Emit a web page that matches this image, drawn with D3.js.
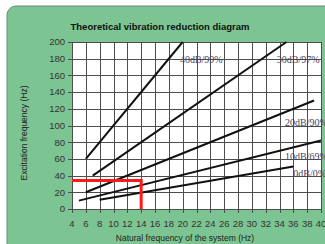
<!DOCTYPE html>
<html>
<head>
<meta charset="utf-8">
<script src="https://cdn.jsdelivr.net/npm/d3@7"></script>
<style>
  body { margin: 0; background: #fff; }
  svg { display: block; }
</style>
</head>
<body>
<div id="chart"></div>
<script>
// Data
const xTicks = [4, 6, 8, 10, 12, 14, 16, 18, 20, 22, 24, 26, 28, 30, 32, 34, 36, 38, 40];
const yTicks = [0, 20, 40, 60, 80, 100, 120, 140, 160, 180, 200];
const seriesNames = ["40dB/99%", "30dB/97%", "20dB/90%", "10dB/69%", "0dB/0%"];
const seriesPoints = [
    [[6, 60], [20, 200]],
    [[7, 40], [35, 200]],
    [[6, 20], [39, 130]],
    [[5, 10], [40, 82]],
    [[8, 11], [36, 51]]
];
// label anchor (left end): [x, y] in data units
const labelPos = [[19.6, 179], [33.6, 179], [34.8, 103], [34.8, 63], [36, 43]];
const markerPath = [[4, 34], [14, 34], [14, 0]];

const width = 325, height = 244;

const svg = d3.select("#chart").append("svg")
    .attr("width", width)
    .attr("height", height);

// green card
svg.append("rect")
    .attr("x", 7).attr("y", 6)
    .attr("width", 340).attr("height", 260)
    .attr("rx", 9)
    .attr("fill", "#7cc491")
    .attr("stroke", "#6d8a76")
    .attr("stroke-width", 1);

const x = d3.scaleLinear().domain([4, 40]).range([72, 321]);
const y = d3.scaleLinear().domain([0, 200]).range([209, 42]);

// plot area
svg.append("rect")
    .attr("x", x(4)).attr("y", y(200))
    .attr("width", x(40) - x(4)).attr("height", y(0) - y(200))
    .attr("fill", "#fff");

// grid
svg.append("g")
    .selectAll("line")
    .data(xTicks)
    .join("line")
    .attr("x1", d => Math.round(x(d)) + 0.5).attr("x2", d => Math.round(x(d)) + 0.5)
    .attr("y1", y(200)).attr("y2", y(0) + 4)
    .attr("stroke", "#4d4d4d")
    .attr("stroke-width", 1);

svg.append("g")
    .selectAll("line")
    .data(yTicks)
    .join("line")
    .attr("x1", x(4) - 4).attr("x2", x(40))
    .attr("y1", d => Math.round(y(d)) + 0.5).attr("y2", d => Math.round(y(d)) + 0.5)
    .attr("stroke", "#4d4d4d")
    .attr("stroke-width", 1);

// tick labels
svg.append("g")
    .selectAll("text")
    .data(yTicks)
    .join("text")
    .attr("x", x(4) - 7)
    .attr("y", d => y(d))
    .attr("dy", "0.35em")
    .attr("text-anchor", "end")
    .attr("font-family", "Liberation Sans, Arial, sans-serif")
    .attr("font-size", 9.5)
    .attr("fill", "#333")
    .text(d => d);

svg.append("g")
    .selectAll("text")
    .data(xTicks)
    .join("text")
    .attr("x", d => x(d))
    .attr("y", y(0) + 18)
    .attr("text-anchor", "middle")
    .attr("font-family", "Liberation Sans, Arial, sans-serif")
    .attr("font-size", 9.5)
    .attr("fill", "#333")
    .text(d => d);

// series lines
const line = d3.line().x(d => x(d[0])).y(d => y(d[1]));
svg.append("g")
    .selectAll("path")
    .data(seriesPoints)
    .join("path")
    .attr("d", line)
    .attr("fill", "none")
    .attr("stroke", "#111")
    .attr("stroke-width", 2);

// series labels
svg.append("g")
    .selectAll("text")
    .data(seriesNames)
    .join("text")
    .attr("x", (d, i) => x(labelPos[i][0]))
    .attr("y", (d, i) => y(labelPos[i][1]))
    .attr("dy", "0.35em")
    .attr("font-family", "Liberation Serif, serif")
    .attr("font-size", 10)
    .attr("fill", "#4a4560")
    .text(d => d);

// red marker
svg.append("path")
    .attr("d", line(markerPath))
    .attr("fill", "none")
    .attr("stroke", "#ff1a1a")
    .attr("stroke-width", 3);

// titles
svg.append("text")
    .attr("x", 160).attr("y", 30)
    .attr("text-anchor", "middle")
    .attr("font-family", "Liberation Sans, Arial, sans-serif")
    .attr("font-weight", "bold")
    .attr("font-size", 9.5)
    .attr("fill", "#111")
    .text("Theoretical vibration reduction diagram");

svg.append("text")
    .attr("x", 185).attr("y", 241)
    .attr("text-anchor", "middle")
    .attr("font-family", "Liberation Sans, Arial, sans-serif")
    .attr("font-size", 8.5)
    .attr("fill", "#222")
    .text("Natural frequency of the system (Hz)");

svg.append("text")
    .attr("transform", "translate(27,133) rotate(-90)")
    .attr("text-anchor", "middle")
    .attr("font-family", "Liberation Sans, Arial, sans-serif")
    .attr("font-size", 8.5)
    .attr("fill", "#222")
    .text("Excitation frequency (Hz)");
</script>
</body>
</html>
